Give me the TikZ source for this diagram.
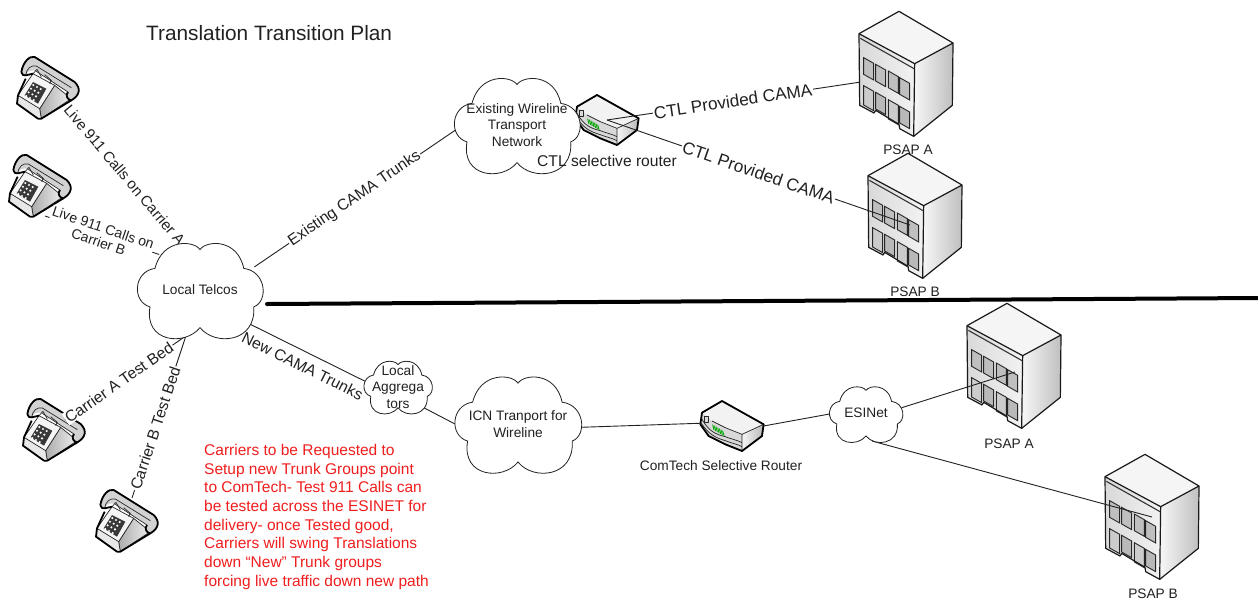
\documentclass[tikz,border=0pt]{standalone}
\usepackage{fontspec}
\setmainfont{Liberation Sans}
\usetikzlibrary{shapes.geometric,calc}
\pgfdeclarelayer{devices}
\pgfdeclarelayer{links}
\pgfdeclarelayer{clouds}
\pgfsetlayers{devices,links,clouds,main}
\definecolor{ink}{gray}{0.13}
\definecolor{redtxt}{RGB}{240,30,30}
\tikzset{
  devnode/.style={inner sep=0pt,outer sep=0pt},
  cloudbox/.style={ellipse,inner sep=0pt,outer sep=0pt},
  link/.style={draw=ink,line width=0.9pt},
  txt/.style={text=ink,font=\fontsize{13.7}{16.5}\selectfont,align=center,inner sep=0pt},
  linklab/.style={text=ink,font=\fontsize{15.7}{17}\selectfont,align=center,fill=white,inner sep=1pt,sloped},
  biglab/.style={linklab,font=\fontsize{17.2}{19}\selectfont},
  outl/.style={draw=black,line width=1.8pt,line join=round},
  bldl/.style={draw=black!90,line width=1.2pt,line join=round},
  thin/.style={draw=black!85,line width=0.7pt,line join=round},
  pics/phone/.style={code={
    \begin{scope}[scale=1/3,shift={(-145,-148)}]
      \shade[left color=gray!65,right color=gray!12,thin] (165,140)--(215,180)--(125,240)--(120,210)--cycle;
      \fill[gray!18] (52,195)--(55,170)--(120,210)--(125,240)--cycle;
      \fill[gray!8] (55,170)--(100,105)--(165,140)--(120,210)--cycle;
      \draw[thin] (55,170)--(100,105)--(165,140)--(120,210)--cycle;
      \draw[thin] (120,210)--(125,240);
      \fill[gray!35] (65,100) .. controls (70,70) and (90,50) .. (105,55) -- (225,130) .. controls (245,150) and (240,170) .. (215,185) .. controls (205,185) and (195,170) .. (205,160) -- (110,98) .. controls (95,90) and (80,100) .. (78,110) .. controls (72,112) and (68,108) .. (65,100) -- cycle;
      \draw[outl] (65,100) .. controls (70,70) and (90,50) .. (105,55) -- (225,130) .. controls (245,150) and (240,170) .. (215,185) .. controls (205,185) and (195,170) .. (205,160);
      \draw[thin] (78,110) .. controls (80,90) and (95,78) .. (110,82) -- (215,147);
      \draw[thin] (110,98) -- (205,160);
      \draw[thin] (100,105) -- (112,92) -- (125,115) (135,108) -- (155,125) -- (150,135);
      \draw[outl] (65,100) .. controls (66,108) and (72,112) .. (78,110) -- (100,105);
      \draw[outl] (215,185)--(125,240)--(115,240)--(52,195)--(55,170)--(78,120);
      \fill[gray!45!black] (100,130)--(140,150)--(115,195)--(75,170)--cycle;
      \foreach \i in {0,1,2,3} \foreach \j in {0,1,2}
        \fill[white] ({101+\j*11-\i*7},{139+\j*6+\i*11}) circle (3.5);
    \end{scope}}},
  pics/router/.style={code={
    \begin{scope}[scale=1/3,shift={(-500,-180)}]
      \fill[gray!10] (410,140)--(470,105)--(595,175)--(530,205)--(480,185)--(440,165)--cycle;
      \fill[gray!30] (410,140)--(440,165)--(480,185)--(530,205)--(530,255)--(480,235)--(430,210)--(405,175)--cycle;
      \shade[left color=gray!8,right color=gray!55] (530,205)--(595,175)--(590,210)--(530,255)--cycle;
      \draw[thin] (440,165)--(480,185)--(530,205)--(595,175) (530,205)--(530,255);
      \draw[thin] (410,160) .. controls (430,195) and (450,205) .. (480,212) .. controls (500,220) and (515,222) .. (530,230);
      \draw[thin] (408,172) .. controls (430,205) and (450,215) .. (480,224) .. controls (500,232) and (515,234) .. (530,242);
      \draw[thin] (416,152) rectangle (428,168);
      \foreach \k in {0,...,6} \draw[green!65!black,line width=0.9pt] ({442+\k*5},{176+\k*3}) -- ++(4,16);
      \draw[outl] (410,140)--(470,105)--(595,175)--(590,210)--(530,255)--(480,235)--(430,210)--(405,175)--cycle;
    \end{scope}}},
  pics/building/.style={code={
    \begin{scope}[scale=1/3,shift={(-199,-221)}]
      \fill[gray!8] (58,100)--(178,33)--(340,128)--(225,190)--cycle;
      \shade[left color=gray!6,right color=gray!50] (225,190)--(340,128)--(338,315)--(222,408)--cycle;
      \shade[left color=gray!30,right color=gray!10] (58,100)--(225,190)--(222,408)--(180,385)--(178,372)--(108,330)--(103,338)--(60,315)--cycle;
      \draw[black!80,line width=1.1pt] (62,114)--(225,206);
      \foreach \a/\b in {72/172,108/192,146/212,180/232}
        \filldraw[fill=gray!50,draw=black!85,line width=0.9pt] (\a,\b)--++(30,17)--++(0,50)--++(-30,-17)--cycle;
      \foreach \a/\b in {72/256,146/298}
        \filldraw[fill=gray!40,draw=black!85,line width=0.9pt] (\a,\b)--++(30,17)--++(0,58)--++(-30,-17)--cycle;
      \foreach \a/\b in {108/276,180/318}
        \filldraw[fill=gray!55,draw=black!85,line width=0.9pt] (\a,\b)--++(30,17)--++(0,50)--++(-30,-17)--cycle;
      \draw[bldl] (58,100)--(178,33)--(340,128)--(338,315)--(222,408)--(180,385)--(178,372)--(108,330)--(103,338)--(60,315)--cycle;
      \draw[bldl] (58,100)--(225,190)--(222,408);
      \draw[bldl] (225,190)--(340,128);
    \end{scope}}},
}
\newcommand{\cloudoutline}{(0.5,0.07) .. controls (0.55,-0.03) and (0.8,-0.05) .. (0.85,0.27) .. controls (1.03,0.3) and (1.05,0.62) .. (0.93,0.68) .. controls (0.95,1.06) and (0.62,1.1) .. (0.5,0.90) .. controls (0.38,1.1) and (0.05,1.06) .. (0.1,0.68) .. controls (-0.05,0.62) and (-0.03,0.3) .. (0.14,0.27) .. controls (0.2,-0.05) and (0.45,-0.03) .. (0.5,0.07) -- cycle}
\newcommand{\cloudat}[5]{%
  \node[cloudbox,minimum width=#4pt,minimum height=#5pt] (#1) at (#2,#3) {};
  \begin{pgfonlayer}{clouds}
    \draw[fill=white,draw=ink,line width=0.8pt,shift={($(#2,#3)+(-#4/2,-#5/2)$)},xscale=#4,yscale=#5] \cloudoutline;
  \end{pgfonlayer}}
\newcommand{\devat}[6]{%
  \node[devnode,minimum width=#5pt,minimum height=#6pt] (#2) at (#3,#4) {};
  \begin{pgfonlayer}{devices}\pic at (#2) {#1};\end{pgfonlayer}}
\begin{document}
\begin{tikzpicture}[x=1pt,y=-1pt]
\useasboundingbox (0,0) rectangle (1258,603);
\begin{pgfonlayer}{devices}\fill[white] (0,0) rectangle (1258,603);\end{pgfonlayer}
% devices
\devat{phone}{ph1}{48}{88}{40}{40}
\devat{phone}{ph2}{40}{186}{40}{40}
\devat{phone}{ph3}{54}{430}{40}{40}
\devat{phone}{ph4}{127}{521}{40}{40}
\devat{router}{rt1}{607}{120}{63}{50}
\devat{router}{rt2}{732}{426}{63}{50}
\devat{building}{ba1}{906}{74}{94}{126}
\devat{building}{bb1}{915}{216}{94}{126}
\devat{building}{ba2}{1014}{366}{94}{126}
\devat{building}{bb2}{1152}{517}{94}{126}
% clouds
\cloudat{ct}{200}{290}{125}{94}
\cloudat{ce}{517}{125}{125}{94}
\cloudat{ci}{518}{424}{126}{95}
\cloudat{ca}{398}{387}{68}{52}
\cloudat{cn}{866}{414}{73}{55}
% text in clouds
\node[txt] (tct) at (ct) {Local Telcos};
\node[txt] (tce) at (ce) {Existing Wireline\\Transport\\Network};
\node[txt] (tci) at (ci) {ICN Tranport for\\Wireline};
\node[txt] (tca) at (ca) {Local\\Aggrega\\tors};
\node[txt] (tcn) at ([yshift=1pt]cn) {ESINet};
% captions
\node[font=\fontsize{20.8}{23}\selectfont,text=ink,inner sep=0pt,anchor=west] (title) at (146,33) {Translation Transition Plan};
\node[txt] (lpa1) at (908,150) {PSAP A};
\node[txt] (lpb1) at (915,292) {PSAP B};
\node[txt] (lpa2) at (1009,444) {PSAP A};
\node[txt] (lpb2) at (1153,594) {PSAP B};
\node[txt,font=\fontsize{15.6}{18}\selectfont] (lr1) at (607,161) {CTL selective router};
\node[txt] (lr2) at (721,466) {ComTech Selective Router};
\node[anchor=north west,inner sep=0pt,align=left,text=redtxt,font=\fontsize{15.5}{18.7}\selectfont] (note) at (204,444) {Carriers to be Requested to\\Setup new Trunk Groups point\\to ComTech- Test 911 Calls can\\be tested across the ESINET for\\delivery- once Tested good,\\Carriers will swing Translations\\down “New” Trunk groups\\forcing live traffic down new path};
% divider
\coordinate (divl) at (267,304);
\coordinate (divr) at (1258,298);
\draw[black,line width=4pt,line cap=round] (divl) -- (divr);
% links
\begin{pgfonlayer}{links}
\draw[link] (ph1.-45) -- node[linklab,font=\fontsize{15}{17}\selectfont,pos=0.49] {Live 911 Calls on Carrier A} (ct.110);
\draw[link] ([shift={(5,30)}]ph2.center) -- node[linklab,font=\fontsize{14}{15}\selectfont,pos=0.49] {Live 911 Calls on\\Carrier B} (ct.139);
\draw[link] ([shift={(11,-10)}]ph3.center) -- node[linklab,pos=0.446] {Carrier A Test Bed} (ct.253);
\draw[link] ([shift={(5,-23)}]ph4.center) -- node[linklab,pos=0.43] {Carrier B Test Bed} (ct.253);
\draw[link] (ct.23) -- node[linklab,pos=0.5] {Existing CAMA Trunks} (ce.185);
\draw[link] (ct.-35) -- node[linklab,fill=none,below=7pt,pos=0.53] {New CAMA Trunks} (ca.170);
\draw[link] (rt1.center) -- node[biglab,pos=0.5] {CTL Provided CAMA} (ba1.-170);
\draw[link] (rt1.center) -- node[biglab,pos=0.5] {CTL Provided CAMA} ([shift={(-5,9)}]bb1.center);
\draw[link] (ca.-40) -- (ci.180);
\draw[link] (ci.-3) -- (rt2.175);
\draw[link] (rt2.east) -- (cn.west);
\draw[link] (cn.10) -- ([shift={(1,6)}]ba2.center);
\draw[link] (cn.-77) -- (bb2.center);
\end{pgfonlayer}
\end{tikzpicture}
\end{document}
